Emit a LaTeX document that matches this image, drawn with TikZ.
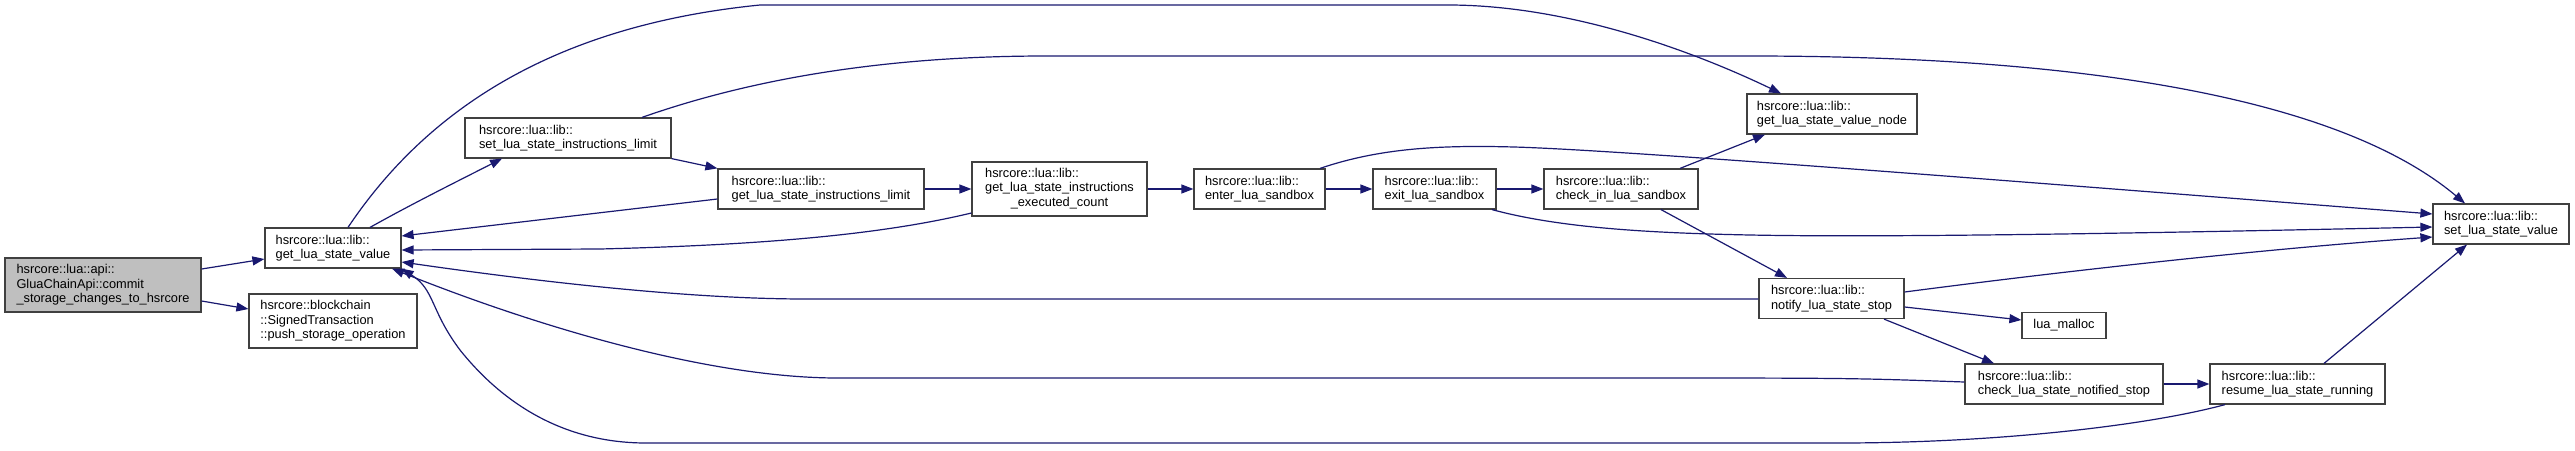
\documentclass[tikz,border=0pt]{standalone}
\usepackage{fontspec}
\setmainfont{Liberation Sans}
\usetikzlibrary{arrows.meta}
\definecolor{edgec}{HTML}{191970}
\definecolor{rootfill}{HTML}{BFBFBF}
\definecolor{nodeline}{HTML}{404040}
\begin{document}
\begin{tikzpicture}[x=1pt,y=-1pt,
  fn/.style={draw=nodeline, line width=1.2pt, fill=white, inner sep=0pt, align=left,
    font=\fontsize{12.8}{14.5}\selectfont, text=black},
  conn/.style={draw=edgec, line width=1.2pt, -{Triangle[length=12pt,width=9pt]}},
]
\useasboundingbox (0,0) rectangle (2575,450);
\fill[white] (0,0) rectangle (2575,450);

% nodes
\node[fn, fill=rootfill, minimum width=196pt, minimum height=54pt] (root) at (103,285)
  {hsrcore::lua::api::\\GluaChainApi::commit\\\_storage\_changes\_to\_hsrcore};
\node[fn, minimum width=136pt, minimum height=40pt] (gv) at (333,248)
  {hsrcore::lua::lib::\\get\_lua\_state\_value};
\node[fn, minimum width=168pt, minimum height=54pt] (pso) at (333,321)
  {hsrcore::blockchain\\::SignedTransaction\\::push\_storage\_operation};
\node[fn, minimum width=206pt, minimum height=40pt] (sil) at (568,138)
  {hsrcore::lua::lib::\\set\_lua\_state\_instructions\_limit};
\node[fn, minimum width=206pt, minimum height=40pt] (gil) at (821,189)
  {hsrcore::lua::lib::\\get\_lua\_state\_instructions\_limit};
\node[fn, minimum width=175pt, minimum height=54pt] (gec) at (1059.5,189)
  {\begin{tabular}{@{}l@{}}hsrcore::lua::lib::\\get\_lua\_state\_instructions\\\multicolumn{1}{@{}c@{}}{\_executed\_count}\end{tabular}};
\node[fn, minimum width=131pt, minimum height=40pt] (ens) at (1259.5,189)
  {hsrcore::lua::lib::\\enter\_lua\_sandbox};
\node[fn, minimum width=123pt, minimum height=40pt] (exs) at (1434.5,189)
  {hsrcore::lua::lib::\\exit\_lua\_sandbox};
\node[fn, minimum width=154pt, minimum height=40pt] (cis) at (1621,189)
  {hsrcore::lua::lib::\\check\_in\_lua\_sandbox};
\node[fn, minimum width=170pt, minimum height=40pt] (gvn) at (1832,114)
  {hsrcore::lua::lib::\\get\_lua\_state\_value\_node};
\node[fn, minimum width=145pt, minimum height=40pt] (nls) at (1831.5,298.5)
  {hsrcore::lua::lib::\\notify\_lua\_state\_stop};
\node[fn, minimum width=84pt, minimum height=26pt] (lm) at (2064,325.5)
  {lua\_malloc};
\node[fn, minimum width=198pt, minimum height=40pt] (cns) at (2064,384)
  {hsrcore::lua::lib::\\check\_lua\_state\_notified\_stop};
\node[fn, minimum width=175pt, minimum height=40pt] (rsr) at (2297.5,384)
  {hsrcore::lua::lib::\\resume\_lua\_state\_running};
\node[fn, minimum width=136pt, minimum height=40pt] (sv) at (2501,224)
  {hsrcore::lua::lib::\\set\_lua\_state\_value};

% connectors
\draw[conn] (root.east |- 0,269) -- (gv.west |- 0,259);
\draw[conn] (root.east |- 0,301) -- (pso.west |- 0,309);
\draw[conn] (370,0 |- gv.north) .. controls (410,205) and (450,185) .. (502,0 |- sil.south);
\draw[conn] (348,0 |- gv.north) .. controls (430,105) and (560,25) .. (760,5) -- (1448,5)
  .. controls (1560,5) and (1680,45) .. (1781,0 |- gvn.north);
\draw[conn] (sil.south east) -- (gil.north west);
\draw[conn] (642,0 |- sil.north) .. controls (720,90) and (850,56) .. (1046,56) -- (1750,56)
  .. controls (2050,56) and (2330,90) .. (2465,0 |- sv.north);
\draw[conn] (gil.west |- 0,199) -- (gv.east |- 0,236);
\draw[conn] (gil.east) -- (gec.west);
\draw[conn] (gec.west |- 0,213) .. controls (880,235) and (760,245) .. (600,249) -- (gv.east |- 0,250);
\draw[conn] (gec.east) -- (ens.west);
\draw[conn] (ens.east) -- (exs.west);
\draw[conn] (exs.east) -- (cis.west);
\draw[conn] (1320,0 |- ens.north) .. controls (1380,148) and (1440,145) .. (1514,147)
  .. controls (1620,150) and (2000,180) .. (sv.west |- 0,214);
\draw[conn] (1492,0 |- exs.south) .. controls (1560,228) and (1650,233) .. (1750,235)
  .. controls (1900,238) and (2200,232) .. (sv.west |- 0,227);
\draw[conn] (1680,0 |- cis.north) -- (1765,0 |- gvn.south);
\draw[conn] (1661,0 |- cis.south) -- (1787,0 |- nls.north);
\draw[conn] (nls.west |- 0,299) -- (806,299) .. controls (680,299) and (520,279) .. (gv.east |- 0,262);
\draw[conn] (nls.east |- 0,307) -- (lm.west |- 0,320);
\draw[conn] (1884,0 |- nls.south) -- (1994,0 |- cns.north);
\draw[conn] (nls.east |- 0,292) .. controls (2050,273) and (2250,250) .. (sv.west |- 0,237);
\draw[conn] (cns.west |- 0,382) .. controls (1850,378) .. (1609,378) -- (838,378)
  .. controls (700,378) and (520,320) .. (392,0 |- gv.south);
\draw[conn] (cns.east) -- (rsr.west);
\draw[conn] (2225,0 |- rsr.south) .. controls (2150,425) and (2000,443) .. (1839,443) -- (646,443)
  .. controls (560,443) and (500,400) .. (460,350) .. controls (430,310) and (435,290) .. (gv.south east);
\draw[conn] (2324,0 |- rsr.north) -- (2467,0 |- sv.south);
\end{tikzpicture}
\end{document}
